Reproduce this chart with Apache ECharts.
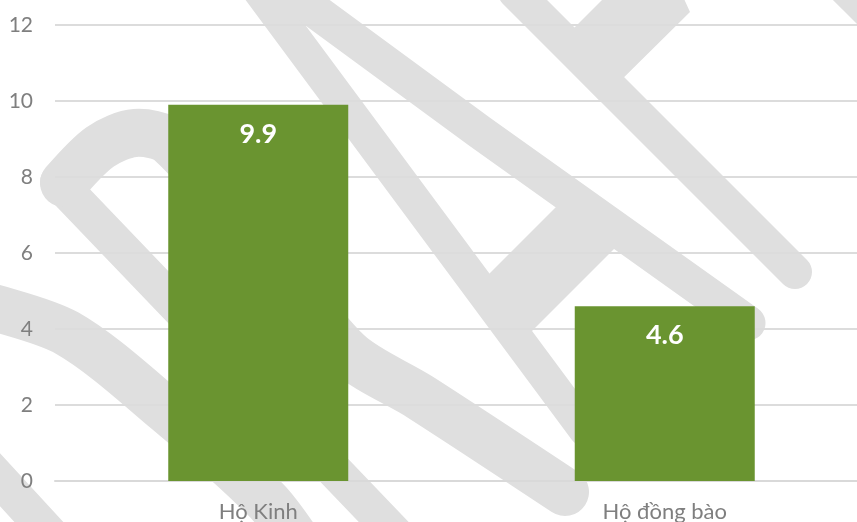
<!DOCTYPE html>
<html>
<head>
<meta charset="utf-8">
<script src="https://cdn.jsdelivr.net/npm/echarts@6/dist/echarts.min.js"></script>
<style>
  html, body { margin: 0; padding: 0; background: #fff; }
  #chart { width: 857px; height: 522px; }
</style>
</head>
<body>
<div id="chart"></div>
<script>
// data
const categories = ['Hộ Kinh', 'Hộ đồng bào']
const values = [9.9, 4.6]
const yMin = 0
const yMax = 12
const yStep = 2

// background watermark strokes (decoration only)
const wm = '#dfdfdf'
function stroke (points, width, smooth) {
  return {
    type: 'polyline',
    z: -1,
    silent: true,
    shape: { points: points, smooth: smooth || 0 },
    style: { stroke: wm, lineWidth: width, lineCap: 'round', lineJoin: 'round', fill: null }
  }
}
function patch (points) {
  return { type: 'polygon', z: -1, silent: true, shape: { points: points }, style: { fill: wm } }
}

const chart = echarts.init(document.getElementById('chart'))

chart.setOption({
  animation: false,
  textStyle: { fontFamily: 'Lato' },
  graphic: [
    stroke([[-20, 458], [60, 545]], 36),
    stroke([[-25, 303], [67, 333], [167, 411], [266, 500], [300, 545]], 47, 0.3),
    stroke([[58, 182], [400, 539]], 36),
    stroke([[64, 183], [100, 147], [135, 133], [170, 142], [260, 245], [348, 353], [420, 397], [565, 492]], 48, 0.3),
    stroke([[255, -15], [585, 430]], 33),
    stroke([[296, -3], [480, 132], [748, 323]], 35),
    stroke([[515, -8], [795, 272]], 34),
    stroke([[830, -27], [900, 43]], 34),
    patch([[602, 0], [602, -10], [680, -10], [690, 12], [600, 101], [551, 51]]),
    patch([[570, 193], [478, 285], [528, 335], [620, 243]])
  ],
  grid: { left: 55, width: 813, top: 25, bottom: 41, containLabel: false, outerBoundsMode: 'none' },
  xAxis: {
    type: 'category',
    data: categories,
    axisTick: { show: false },
    axisLine: { lineStyle: { color: '#d9d9d9', width: 2 } },
    axisLabel: { color: '#7f7f7f', fontSize: 22, margin: 20 }
  },
  yAxis: {
    type: 'value',
    min: yMin,
    max: yMax,
    interval: yStep,
    axisLine: { show: false },
    axisTick: { show: false },
    axisLabel: { color: '#7f7f7f', fontSize: 21, margin: 22 },
    splitLine: { lineStyle: { color: '#dcdcdc', width: 2 } }
  },
  series: [
    {
      type: 'bar',
      data: values,
      barWidth: 180,
      z: 3,
      itemStyle: { color: '#6a9430' },
      label: {
        show: true,
        position: 'insideTop',
        distance: 16,
        color: '#fff',
        fontSize: 27,
        fontWeight: 'bold'
      }
    }
  ]
})
</script>
</body>
</html>
